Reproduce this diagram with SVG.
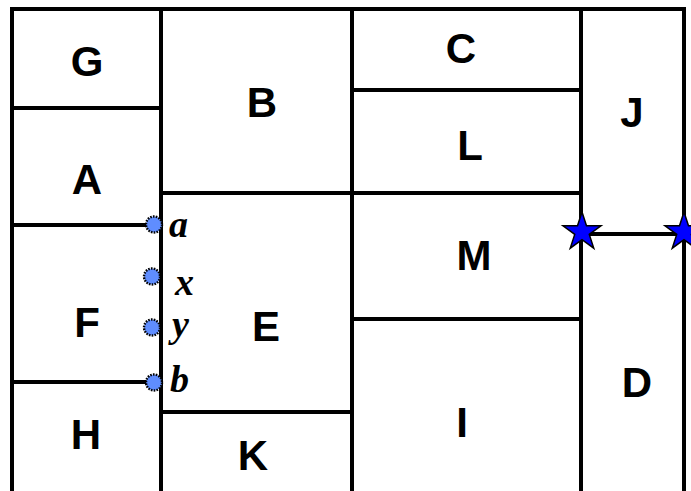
<svg xmlns="http://www.w3.org/2000/svg" width="691" height="491" viewBox="0 0 691 491">
  <defs>
    <style>
      .wall { stroke: #000; stroke-width: 4; fill: none; stroke-linecap: square; }
      .lbl { font-family: "Liberation Sans", Arial, sans-serif; font-weight: bold; font-size: 42px; fill: #000; text-anchor: middle; }
      .pt { font-family: "Liberation Serif", "Times New Roman", serif; font-weight: bold; font-style: italic; font-size: 38px; fill: #000; }
      .dot { fill: #5f8dff; stroke: #000; stroke-width: 2.4; stroke-dasharray: 1.6 1.2; }
      .star { fill: #0000ff; stroke: #000; stroke-width: 1.5; stroke-linejoin: miter; }
    </style>
    <polygon id="star" class="star" points="0,-20 4.49,-6.18 19.02,-6.18 7.27,2.36 11.76,16.18 0,7.64 -11.76,16.18 -7.27,2.36 -19.02,-6.18 -4.49,-6.18"/>
  </defs>
  <rect width="691" height="491" fill="#fff"/>

  <!-- partition walls -->
  <g id="connectors">
    <line class="wall" x1="12" y1="9" x2="684" y2="9"/>
    <line class="wall" x1="12" y1="9" x2="12" y2="493"/>
    <line class="wall" x1="161" y1="9" x2="161" y2="493"/>
    <line class="wall" x1="352" y1="9" x2="352" y2="493"/>
    <line class="wall" x1="581" y1="9" x2="581" y2="493"/>
    <line class="wall" x1="684" y1="9" x2="684" y2="493"/>
    <line class="wall" x1="12" y1="108" x2="161" y2="108"/>
    <line class="wall" x1="12" y1="225" x2="161" y2="225"/>
    <line class="wall" x1="12" y1="382" x2="161" y2="382"/>
    <line class="wall" x1="161" y1="193" x2="581" y2="193"/>
    <line class="wall" x1="161" y1="412" x2="352" y2="412"/>
    <line class="wall" x1="352" y1="90" x2="581" y2="90"/>
    <line class="wall" x1="352" y1="319" x2="581" y2="319"/>
    <line class="wall" x1="581" y1="234" x2="684" y2="234"/>
  </g>

  <!-- regions -->
  <g id="G"><text class="lbl" x="87" y="76">G</text></g>
  <g id="A"><text class="lbl" x="87" y="194">A</text></g>
  <g id="F"><text class="lbl" x="87" y="337">F</text></g>
  <g id="H"><text class="lbl" x="86" y="449">H</text></g>
  <g id="B"><text class="lbl" x="262" y="117">B</text></g>
  <g id="E"><text class="lbl" x="266" y="341">E</text></g>
  <g id="K"><text class="lbl" x="253" y="470">K</text></g>
  <g id="C"><text class="lbl" x="461" y="63">C</text></g>
  <g id="L"><text class="lbl" x="470" y="160">L</text></g>
  <g id="M"><text class="lbl" x="474" y="270">M</text></g>
  <g id="I"><text class="lbl" x="462" y="437">I</text></g>
  <g id="J"><text class="lbl" x="632" y="127">J</text></g>
  <g id="D"><text class="lbl" x="637" y="397">D</text></g>

  <!-- boundary points -->
  <g id="pa"><circle class="dot" cx="154" cy="224.5" r="8"/><text class="pt" x="169" y="237">a</text></g>
  <g id="px"><circle class="dot" cx="152" cy="276.5" r="8"/><text class="pt" x="175" y="295">x</text></g>
  <g id="py"><circle class="dot" cx="152" cy="327.5" r="8"/><text class="pt" x="172" y="337">y</text></g>
  <g id="pb"><circle class="dot" cx="154" cy="382.5" r="8"/><text class="pt" x="170" y="392">b</text></g>

  <!-- star markers -->
  <g id="s1"><use href="#star" x="582" y="232"/></g>
  <g id="s2"><use href="#star" x="684" y="232"/></g>
</svg>
